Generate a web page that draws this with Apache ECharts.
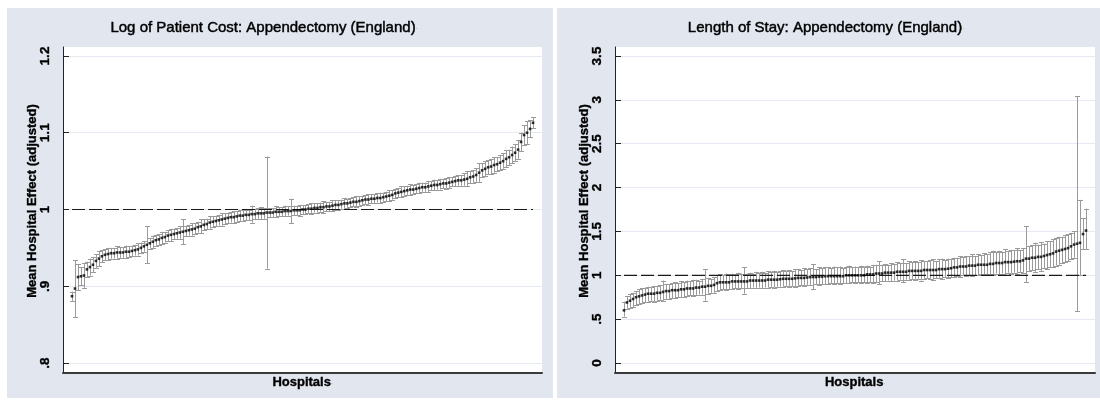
<!DOCTYPE html>
<html><head><meta charset="utf-8">
<script src="https://cdn.jsdelivr.net/npm/echarts@6/dist/echarts.min.js"></script>
<style>html,body{margin:0;padding:0;background:#fff}#c{width:1100px;height:400px}</style>
</head><body><div id="c"></div>
<script>
// ---------- data ----------
const costTicks = [0.8, 0.9, 1.0, 1.1, 1.2];
const costTickLabels = ['.8', '.9', '1', '1.1', '1.2'];
const losTicks = [0, 0.5, 1, 1.5, 2, 2.5, 3, 3.5];
const losTickLabels = ['0', '.5', '1', '1.5', '2', '2.5', '3', '3.5'];
const referenceValue = 1;

// Log of patient cost: mean hospital effect (hospitals ranked)
const costMean = [
  0.887,0.897,0.912,0.913,0.914,0.922,0.925,0.928,0.933,0.936,
  0.939,0.941,0.942,0.943,0.943,0.944,0.944,0.944,0.945,0.945,
  0.946,0.947,0.948,0.950,0.952,0.954,0.956,0.958,0.960,0.961,
  0.963,0.964,0.966,0.967,0.968,0.969,0.970,0.971,0.972,0.973,
  0.974,0.975,0.977,0.978,0.980,0.981,0.983,0.984,0.985,0.986,
  0.987,0.988,0.989,0.990,0.990,0.991,0.992,0.992,0.993,0.993,
  0.994,0.994,0.995,0.995,0.995,0.996,0.996,0.996,0.997,0.997,
  0.997,0.998,0.998,0.998,0.999,0.999,0.999,1.000,1.000,1.001,
  1.001,1.002,1.002,1.003,1.003,1.004,1.004,1.005,1.006,1.006,
  1.007,1.008,1.008,1.009,1.010,1.010,1.011,1.012,1.013,1.013,
  1.014,1.014,1.015,1.015,1.016,1.017,1.018,1.019,1.021,1.022,
  1.023,1.024,1.025,1.026,1.026,1.027,1.028,1.029,1.029,1.030,
  1.031,1.032,1.032,1.033,1.034,1.034,1.035,1.036,1.037,1.038,
  1.038,1.039,1.040,1.042,1.043,1.045,1.048,1.051,1.053,1.055,
  1.056,1.058,1.059,1.061,1.063,1.066,1.068,1.071,1.074,1.078,
  1.088,1.097,1.100,1.105,1.113
];
// half-width of the confidence interval (log scale, symmetric)
const costHalfCI = [
  .006,.037,.017,.012,.016,.010,.011,.010,.009,.010,
  .008,.007,.008,.007,.007,.008,.007,.007,.008,.007,
  .007,.007,.008,.007,.007,.024,.007,.008,.007,.007,
  .008,.007,.007,.008,.007,.007,.008,.016,.007,.007,
  .008,.007,.007,.009,.007,.007,.008,.007,.007,.007,
  .008,.007,.007,.007,.008,.007,.007,.007,.007,.007,
  .011,.007,.007,.008,.007,.073,.006,.006,.007,.006,
  .006,.007,.006,.016,.006,.006,.007,.006,.006,.006,
  .007,.006,.006,.006,.008,.006,.006,.007,.006,.006,
  .006,.007,.006,.006,.006,.007,.006,.006,.006,.007,
  .006,.006,.006,.007,.006,.006,.007,.006,.006,.006,
  .007,.006,.006,.007,.006,.006,.007,.006,.006,.007,
  .006,.007,.006,.007,.006,.007,.007,.006,.007,.007,
  .007,.008,.010,.008,.008,.009,.012,.009,.010,.009,
  .010,.010,.009,.010,.010,.011,.010,.011,.011,.012,
  .012,.013,.015,.011,.007
];

// Length of stay: mean hospital effect with lower / upper CI
const losMean = [
  0.60,0.69,0.71,0.73,0.75,0.76,0.77,0.78,0.79,0.79,
  0.79,0.80,0.80,0.81,0.82,0.82,0.83,0.83,0.83,0.84,
  0.84,0.85,0.85,0.85,0.86,0.86,0.87,0.87,0.88,0.88,
  0.89,0.91,0.92,0.92,0.92,0.92,0.93,0.93,0.93,0.93,
  0.93,0.93,0.94,0.94,0.94,0.94,0.94,0.94,0.95,0.95,
  0.95,0.95,0.955,0.96,0.96,0.96,0.96,0.965,0.97,0.97,
  0.97,0.975,0.98,0.98,0.98,0.985,0.985,0.99,0.99,0.99,
  0.99,0.99,0.99,0.99,1.00,1.00,1.00,1.00,1.00,1.00,
  1.00,1.01,1.01,1.01,1.02,1.02,1.02,1.03,1.03,1.03,
  1.03,1.04,1.04,1.04,1.04,1.05,1.05,1.05,1.05,1.05,
  1.06,1.06,1.06,1.06,1.06,1.07,1.07,1.07,1.075,1.08,
  1.09,1.09,1.10,1.10,1.10,1.11,1.11,1.11,1.12,1.12,
  1.12,1.12,1.13,1.13,1.14,1.14,1.14,1.15,1.15,1.15,
  1.155,1.16,1.16,1.17,1.19,1.19,1.20,1.20,1.21,1.21,
  1.22,1.23,1.24,1.25,1.27,1.28,1.29,1.30,1.31,1.33,
  1.35,1.36,1.37,1.47,1.51
];
const losLow = [
  0.53,0.62,0.63,0.64,0.66,0.67,0.68,0.69,0.70,0.71,
  0.70,0.71,0.72,0.71,0.73,0.73,0.74,0.74,0.75,0.75,
  0.75,0.76,0.77,0.76,0.77,0.78,0.78,0.71,0.79,0.80,
  0.80,0.82,0.83,0.84,0.83,0.84,0.84,0.85,0.84,0.85,
  0.79,0.85,0.85,0.86,0.85,0.86,0.85,0.86,0.86,0.87,
  0.86,0.87,0.87,0.87,0.88,0.87,0.88,0.87,0.88,0.89,
  0.88,0.89,0.89,0.84,0.90,0.89,0.90,0.90,0.90,0.91,
  0.90,0.91,0.90,0.91,0.91,0.91,0.92,0.91,0.92,0.91,
  0.92,0.91,0.92,0.91,0.92,0.90,0.93,0.93,0.94,0.93,
  0.94,0.94,0.95,0.92,0.95,0.95,0.96,0.95,0.96,0.94,
  0.96,0.97,0.96,0.95,0.97,0.97,0.96,0.98,0.97,0.98,
  0.98,0.99,0.98,1.00,0.99,1.00,0.99,1.00,1.00,1.01,
  1.00,1.01,1.01,1.00,1.02,1.01,1.02,1.00,1.03,1.02,
  1.03,1.02,1.04,1.03,0.92,1.05,1.06,1.04,1.07,1.05,
  1.08,1.07,1.09,1.09,1.11,1.12,1.14,1.15,1.16,1.18,
  1.20,0.59,1.00,1.30,1.30
];
const losHigh = [
  0.70,0.76,0.79,0.80,0.82,0.84,0.85,0.86,0.87,0.87,
  0.88,0.88,0.89,0.94,0.90,0.90,0.91,0.92,0.91,0.93,
  0.92,0.94,0.93,0.95,0.95,0.94,0.96,1.07,0.97,0.96,
  0.98,1.00,1.01,1.00,1.02,1.01,1.02,1.01,1.03,1.02,
  1.09,1.02,1.03,1.02,1.04,1.03,1.04,1.03,1.05,1.04,
  1.05,1.04,1.05,1.06,1.05,1.06,1.05,1.07,1.07,1.06,
  1.08,1.07,1.08,1.13,1.07,1.09,1.08,1.09,1.09,1.08,
  1.10,1.09,1.10,1.08,1.10,1.11,1.09,1.10,1.09,1.11,
  1.10,1.11,1.10,1.12,1.12,1.16,1.12,1.13,1.12,1.14,
  1.13,1.15,1.14,1.18,1.14,1.16,1.15,1.16,1.15,1.17,
  1.16,1.16,1.17,1.18,1.16,1.18,1.19,1.17,1.19,1.19,
  1.20,1.20,1.22,1.21,1.22,1.22,1.24,1.22,1.24,1.23,
  1.25,1.24,1.26,1.28,1.26,1.28,1.27,1.30,1.28,1.29,
  1.29,1.31,1.29,1.31,1.56,1.33,1.34,1.37,1.35,1.38,
  1.36,1.39,1.39,1.41,1.43,1.44,1.44,1.46,1.47,1.48,
  1.50,3.04,1.86,1.65,1.76
];

// ---------- chart ----------
const FONT = '"Liberation Sans", Arial, sans-serif';
const costRank = costMean.map((v, i) => i + 1);
const losRank = losMean.map((v, i) => i + 1);
const costErr = costMean.map((m, i) => [costRank[i], m - costHalfCI[i], m + costHalfCI[i]]);
const costPts = costMean.map((m, i) => [costRank[i], m]);
const losErr = losMean.map((m, i) => [losRank[i], losLow[i], losHigh[i]]);
const losPts = losMean.map((m, i) => [losRank[i], m]);

function labelFor(ticks, labels) {
  return v => {
    for (let k = 0; k < ticks.length; k++) if (Math.abs(ticks[k] - v) < 1e-6) return labels[k];
    return '';
  };
}
function errItem(params, api) {
  const x = api.value(0);
  const a = api.coord([x, api.value(1)]);
  const b = api.coord([x, api.value(2)]);
  const px = Math.round(a[0]) + 0.5;
  const c = 2.5;
  const st = { stroke: '#9a9a9a', lineWidth: 1, fill: null };
  return { type: 'group', children: [
    { type: 'line', shape: { x1: px, y1: a[1], x2: px, y2: b[1] }, style: st },
    { type: 'line', shape: { x1: px - c, y1: Math.round(a[1]) + 0.5, x2: px + c, y2: Math.round(a[1]) + 0.5 }, style: st },
    { type: 'line', shape: { x1: px - c, y1: Math.round(b[1]) + 0.5, x2: px + c, y2: Math.round(b[1]) + 0.5 }, style: st }
  ]};
}
const heavy = { textBorderColor: '#000', textBorderWidth: 0.35 };
const nameStyle = Object.assign({ fontFamily: FONT, fontSize: 13, fontWeight: 'bold', color: '#000',
  rich: { d: { fontSize: 6, color: '#999', fontFamily: FONT, textBorderWidth: 0 } } }, heavy);
const tickLabelStyle = Object.assign({ fontFamily: FONT, fontSize: 13.5, fontWeight: 'bold', color: '#000' }, heavy);

function outerAxes(gi) {
  return {
    x: { gridIndex: gi, type: 'value', min: 0, max: 1, show: true,
      axisLine: { show: true, onZero: false, lineStyle: { color: '#3a3a3a', width: 2 } },
      axisTick: { show: false }, axisLabel: { show: false }, splitLine: { show: false },
      name: 'Hospitals{d|.}', nameLocation: 'middle', nameGap: 3,
      nameTextStyle: Object.assign({ verticalAlign: 'top' }, nameStyle) },
    y: { gridIndex: gi, type: 'value', min: 0, max: 1,
      axisLine: { show: true, onZero: false, lineStyle: { color: '#222', width: 1 } },
      axisTick: { show: false }, axisLabel: { show: false }, splitLine: { show: false },
      name: 'Mean Hospital Effect (adjusted)', nameLocation: 'middle', nameRotate: 90, nameGap: 24,
      nameTextStyle: Object.assign({ padding: [0, 0, 0, 18] }, nameStyle) }
  };
}
const oL = outerAxes(0), oR = outerAxes(2);

function innerY(gi, min, max, interval, ticks, labels) {
  return { gridIndex: gi, type: 'value', min, max, interval,
    axisLine: { show: false },
    axisTick: { show: true, length: 6, lineStyle: { color: '#222', width: 1 } },
    axisLabel: Object.assign({ rotate: 90, margin: 11, formatter: labelFor(ticks, labels) }, tickLabelStyle),
    splitLine: { show: true, lineStyle: { color: '#e6e9f1', width: 1 } } };
}
function innerX(gi) {
  return { gridIndex: gi, type: 'value', min: -2, max: 158, show: false };
}
const titleStyle = Object.assign({ fontFamily: FONT, fontSize: 15, fontWeight: 'normal', color: '#000',
  rich: { d: { fontSize: 7, color: '#999', textBorderWidth: 0 } } }, { textBorderColor: '#000', textBorderWidth: 0.45 });

const option = {
  animation: false,
  backgroundColor: '#ffffff',
  graphic: [
    { type: 'rect', z: -100, zlevel: 0, shape: { x: 7, y: 8, width: 546, height: 390 }, style: { fill: '#e1e6ef' } },
    { type: 'rect', z: -100, zlevel: 0, shape: { x: 557, y: 8, width: 548, height: 390 }, style: { fill: '#e1e6ef' } }
  ],
  title: [
    { text: 'Log of Patient Cost: Appendectomy (England){d|.}', left: 259, top: 15, textAlign: 'center', textStyle: titleStyle },
    { text: 'Length of Stay: Appendectomy (England){d|.}', left: 821, top: 15, textAlign: 'center', textStyle: titleStyle }
  ],
  grid: [
    { left: 63, top: 47, width: 479, height: 326, show: true, backgroundColor: '#fff', borderWidth: 0 },
    { left: 63, top: 56, width: 479, height: 307 },
    { left: 615, top: 47, width: 480, height: 326, show: true, backgroundColor: '#fff', borderWidth: 0 },
    { left: 615, top: 56, width: 480, height: 307 }
  ],
  xAxis: [oL.x, innerX(1), oR.x, innerX(3)],
  yAxis: [oL.y, innerY(1, 0.8, 1.2, 0.1, costTicks, costTickLabels),
          oR.y, innerY(3, 0, 3.5, 0.5, losTicks, losTickLabels)],
  series: [
    { type: 'custom', xAxisIndex: 1, yAxisIndex: 1, renderItem: errItem, data: costErr,
      encode: { x: 0, y: [1, 2] }, z: 2, silent: true },
    { type: 'line', xAxisIndex: 1, yAxisIndex: 1, data: [[costRank[0], referenceValue], [costRank[costRank.length - 1], referenceValue]],
      symbol: 'none', lineStyle: { color: '#1a1a1a', width: 1.2, type: [13, 4] }, z: 3, silent: true },
    { type: 'scatter', xAxisIndex: 1, yAxisIndex: 1, data: costPts, symbol: 'rect', symbolSize: 2.6,
      itemStyle: { color: '#000' }, z: 4, silent: true },
    { type: 'custom', xAxisIndex: 3, yAxisIndex: 3, renderItem: errItem, data: losErr,
      encode: { x: 0, y: [1, 2] }, z: 2, silent: true },
    { type: 'line', xAxisIndex: 3, yAxisIndex: 3, data: [[losRank[0], referenceValue], [losRank[losRank.length - 1], referenceValue]],
      symbol: 'none', lineStyle: { color: '#1a1a1a', width: 1.2, type: [13, 4] }, z: 3, silent: true },
    { type: 'scatter', xAxisIndex: 3, yAxisIndex: 3, data: losPts, symbol: 'rect', symbolSize: 2.6,
      itemStyle: { color: '#000' }, z: 4, silent: true }
  ]
};
const chart = echarts.init(document.getElementById('c'), null, { renderer: 'canvas' });
chart.setOption(option);
</script>
</body></html>
